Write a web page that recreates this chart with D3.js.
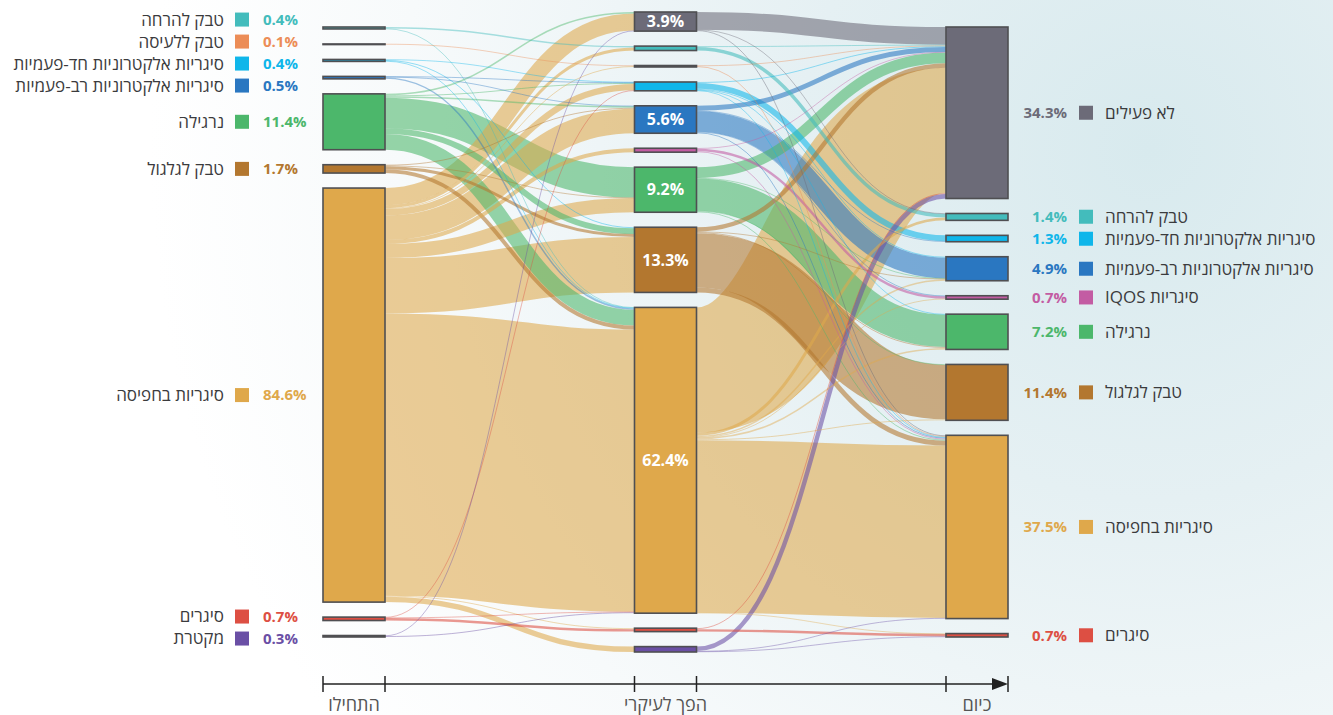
<!DOCTYPE html>
<html><head><meta charset="utf-8">
<script src="https://cdn.jsdelivr.net/npm/d3@7"></script>
<style>
html,body{margin:0;padding:0;background:#fff;}
body{width:1333px;height:715px;overflow:hidden;}
svg{display:block;font-family:"Open Sans","Noto Sans","DejaVu Sans",sans-serif;}
</style></head><body>
<svg id="chart" width="1333" height="715"></svg>
<script>
// ---------- DATA ----------
const stages = ["התחילו", "הפך לעיקרי", "כיום"];

const categories = ["inactive","snuff","chew","disposable","reusable","iqos","hookah","rolling","cigarettes","cigars","pipe"];
const categoryLabels = ["לא פעילים","טבק להרחה","טבק ללעיסה","סיגריות אלקטרוניות חד-פעמיות","סיגריות אלקטרוניות רב-פעמיות","סיגריות IQOS","נרגילה","טבק לגלגול","סיגריות בחפיסה","סיגרים","מקטרת"];
const categoryColors = ["#6c6b78","#43bcbc","#ec8d57","#0fb6ea","#2a77c1","#c35ca3","#4cb76b","#b3772f","#dfa84b","#dd4f43","#6a4fa5"];

const startCategories = ["snuff","chew","disposable","reusable","hookah","rolling","cigarettes","cigars","pipe"];
const startShares = [0.4, 0.1, 0.4, 0.5, 11.4, 1.7, 84.6, 0.7, 0.3];

const mainCategories = ["inactive","snuff","chew","disposable","reusable","iqos","hookah","rolling","cigarettes","cigars","pipe"];
const mainShares = [3.9, 0.9, 0.3, 1.8, 5.6, 0.8, 9.2, 13.3, 62.4, 0.7, 1.1];

const todayCategories = ["inactive","snuff","disposable","reusable","iqos","hookah","rolling","cigarettes","cigars"];
const todayShares = [34.3, 1.4, 1.3, 4.9, 0.7, 7.2, 11.4, 37.5, 0.7];

// flows: [from, to, % of respondents]
const flowsStartToMain = [
  ["snuff","snuff",0.3],["snuff","cigarettes",0.1],
  ["chew","chew",0.1],
  ["disposable","disposable",0.1],["disposable","rolling",0.2],["disposable","cigarettes",0.1],
  ["reusable","disposable",0.1],["reusable","reusable",0.1],["reusable","cigarettes",0.3],
  ["hookah","inactive",0.3],["hookah","disposable",0.2],["hookah","reusable",0.3],["hookah","hookah",6.2],["hookah","rolling",1.2],["hookah","cigarettes",3.2],
  ["rolling","reusable",0.2],["rolling","hookah",0.1],["rolling","rolling",0.6],["rolling","cigarettes",0.8],
  ["cigarettes","inactive",3.5],["cigarettes","snuff",0.6],["cigarettes","chew",0.2],["cigarettes","disposable",1.3],["cigarettes","reusable",5.0],["cigarettes","iqos",0.8],["cigarettes","hookah",2.9],["cigarettes","rolling",11.3],["cigarettes","cigarettes",57.6],["cigarettes","cigars",0.2],["cigarettes","pipe",1.1],
  ["cigars","disposable",0.1],["cigars","cigarettes",0.1],["cigars","cigars",0.5],
  ["pipe","inactive",0.1],["pipe","cigarettes",0.2]
];
const flowsMainToToday = [
  ["inactive","inactive",3.6],["inactive","snuff",0.1],["inactive","cigarettes",0.2],
  ["snuff","inactive",0.2],["snuff","snuff",0.7],
  ["chew","inactive",0.1],["chew","cigarettes",0.2],
  ["disposable","inactive",0.2],["disposable","disposable",1.2],["disposable","reusable",0.2],["disposable","hookah",0.1],["disposable","cigarettes",0.1],
  ["reusable","inactive",1.0],["reusable","disposable",0.1],["reusable","reusable",4.2],["reusable","iqos",0.1],["reusable","cigarettes",0.2],
  ["iqos","inactive",0.1],["iqos","iqos",0.5],["iqos","cigarettes",0.2],
  ["hookah","inactive",2.2],["hookah","reusable",0.1],["hookah","hookah",6.6],["hookah","rolling",0.1],["hookah","cigarettes",0.2],
  ["rolling","inactive",0.9],["rolling","reusable",0.1],["rolling","hookah",0.2],["rolling","rolling",11.1],["rolling","cigarettes",1.0],
  ["cigarettes","inactive",25.6],["cigarettes","snuff",0.6],["cigarettes","reusable",0.3],["cigarettes","iqos",0.1],["cigarettes","hookah",0.3],["cigarettes","rolling",0.2],["cigarettes","cigarettes",35.2],["cigarettes","cigars",0.1],
  ["cigars","inactive",0.2],["cigars","cigars",0.5],
  ["pipe","inactive",0.9],["pipe","cigars",0.1],["pipe","cigarettes",0.1]
];

// ---------- LAYOUT ----------
const W = 1333, H = 715;
const svg = d3.select("#chart");
const fmt = d3.format(".1f");

const colorOf = d3.scaleOrdinal().domain(categories).range(categoryColors);
const labelOf = d3.scaleOrdinal().domain(categories).range(categoryLabels);

// background
const defs = svg.append("defs");
const rg = defs.append("radialGradient").attr("id","bg")
  .attr("gradientUnits","userSpaceOnUse").attr("cx",1150).attr("cy",150).attr("r",1000);
rg.append("stop").attr("offset","0").attr("stop-color","#d8eaee");
rg.append("stop").attr("offset","0.35").attr("stop-color","#e5f0f3");
rg.append("stop").attr("offset","0.75").attr("stop-color","#f7fafb");
rg.append("stop").attr("offset","1").attr("stop-color","#ffffff");
svg.append("rect").attr("width",W).attr("height",H).attr("fill","url(#bg)");

const x = d3.scalePoint().domain(stages).range([323, 946]);
const nodeW = 62;
const v = d3.scaleLinear().domain([0, 100]).range([0, 490]);
const pad = 15, midY = 332;

const columns = [
  {stage: stages[0], cats: startCategories, shares: startShares},
  {stage: stages[1], cats: mainCategories, shares: mainShares},
  {stage: stages[2], cats: todayCategories, shares: todayShares}
];
const nodes = [];
columns.forEach((col, ci) => {
  col.nodes = col.cats.map((c, i) => ({id: ci + ":" + c, cat: c, col: ci, share: col.shares[i], inL: [], outL: []}));
  nodes.push(...col.nodes);
});
const byId = new Map(nodes.map(n => [n.id, n]));
const links = [];
function addLinks(flows, ci) {
  flows.forEach(([s, t, val]) => {
    const l = {source: byId.get(ci + ":" + s), target: byId.get((ci + 1) + ":" + t), value: val};
    l.source.outL.push(l); l.target.inL.push(l); links.push(l);
  });
}
addLinks(flowsStartToMain, 0);
addLinks(flowsMainToToday, 1);
nodes.forEach(n => { n.value = Math.max(d3.sum(n.inL, l => l.value), d3.sum(n.outL, l => l.value)); });
columns.forEach(col => {
  const total = d3.sum(col.nodes, n => v(n.value)) + pad * (col.nodes.length - 1);
  let y = midY - total / 2;
  col.nodes.forEach(n => {
    n.x0 = x(col.stage); n.x1 = n.x0 + nodeW;
    n.y0 = y; n.y1 = y + v(n.value); y = n.y1 + pad;
  });
});
nodes.forEach(n => {
  n.outL.sort((a, b) => a.target.y0 - b.target.y0);
  n.inL.sort((a, b) => a.source.y0 - b.source.y0);
  let y = n.y0;
  n.outL.forEach(l => { l.w = v(l.value); l.y0 = y + l.w / 2; y += l.w; });
  y = n.y0;
  n.inL.forEach(l => { const w = v(l.value); l.y1 = y + w / 2; y += w; });
});

// ---------- LINKS ----------
const linkGen = d3.linkHorizontal()
  .source(l => [l.source.x1, l.y0])
  .target(l => [l.target.x0, l.y1]);
svg.append("g").attr("fill", "none")
  .selectAll("path").data(links.slice().sort((a, b) => b.value - a.value)).join("path")
  .attr("d", linkGen)
  .attr("stroke", l => colorOf(l.source.cat))
  .attr("stroke-opacity", l => l.value < 0.5 ? 0.45 : 0.58)
  .attr("stroke-width", l => Math.max(0.9, l.w));

// ---------- NODES ----------
svg.append("g").selectAll("rect").data(nodes).join("rect")
  .attr("x", n => n.x0).attr("y", n => n.y0)
  .attr("width", nodeW).attr("height", n => Math.max(0.6, n.y1 - n.y0))
  .attr("fill", n => colorOf(n.cat))
  .attr("stroke", "#4f4f52").attr("stroke-width", 1.6);

svg.append("g").selectAll("text").data(columns[1].nodes.filter(n => n.share >= 3)).join("text")
  .attr("x", n => (n.x0 + n.x1) / 2).attr("y", n => (n.y0 + n.y1) / 2)
  .attr("dy", "0.36em").attr("text-anchor", "middle")
  .attr("fill", "#ffffff").attr("font-weight", 700).attr("font-size", 16)
  .text(n => fmt(n.share) + "%");

// ---------- LEGENDS ----------
function relax(ys, gap) {
  const p = ys.slice();
  for (let it = 0; it < 300; it++) {
    for (let i = 1; i < p.length; i++) {
      const d = p[i] - p[i - 1];
      if (d < gap) { const o = (gap - d) / 2; p[i - 1] -= o; p[i] += o; }
    }
  }
  return p;
}
function legend(col, side) {
  const ys = relax(col.nodes.map(n => (n.y0 + n.y1) / 2), 22);
  const g = svg.append("g");
  col.nodes.forEach((n, i) => {
    const y = ys[i];
    const row = g.append("g");
    if (side === "left") {
      row.append("text").attr("x", 224).attr("y", y).attr("dy", "0.35em")
        .attr("direction", "rtl").attr("text-anchor", "start")
        .attr("font-size", 17).attr("fill", "#3b3b3d").text(labelOf(n.cat));
      row.append("rect").attr("x", 235).attr("y", y - 7).attr("width", 14).attr("height", 14).attr("fill", colorOf(n.cat));
      row.append("text").attr("x", 263).attr("y", y).attr("dy", "0.35em").attr("text-anchor", "start")
        .attr("font-size", 15).attr("font-weight", 700).attr("fill", colorOf(n.cat)).text(fmt(n.share) + "%");
    } else {
      row.append("text").attr("x", 1067).attr("y", y).attr("dy", "0.35em").attr("text-anchor", "end")
        .attr("font-size", 15).attr("font-weight", 700).attr("fill", colorOf(n.cat)).text(fmt(n.share) + "%");
      row.append("rect").attr("x", 1079).attr("y", y - 7).attr("width", 14).attr("height", 14).attr("fill", colorOf(n.cat));
      row.append("text").attr("x", 1105).attr("y", y).attr("dy", "0.35em")
        .attr("direction", "rtl").attr("text-anchor", "end")
        .attr("font-size", 17).attr("fill", "#3b3b3d").text(labelOf(n.cat));
    }
  });
}
legend(columns[0], "left");
legend(columns[2], "right");

// ---------- AXIS ----------
const axisY = 684;
const edges = stages.flatMap(s => [x(s), x(s) + nodeW]);
const ax = svg.append("g").attr("stroke", "#222").attr("stroke-width", 1.5);
ax.append("line").attr("x1", edges[0]).attr("x2", edges[edges.length - 1] - 6).attr("y1", axisY).attr("y2", axisY);
ax.selectAll("line.tick").data(edges).join("line").attr("class", "tick")
  .attr("x1", d => d).attr("x2", d => d).attr("y1", axisY - 8).attr("y2", axisY + 8);
const tip = edges[edges.length - 1];
svg.append("path").attr("fill", "#222")
  .attr("d", d3.line()([[tip - 16, axisY - 6], [tip, axisY], [tip - 16, axisY + 6]]) + "Z");
svg.append("g").selectAll("text").data(stages).join("text")
  .attr("x", s => x(s) + nodeW / 2).attr("y", 711)
  .attr("direction", "rtl").attr("text-anchor", "middle")
  .attr("font-size", 18).attr("fill", "#555").text(s => s);
</script>
</body></html>
